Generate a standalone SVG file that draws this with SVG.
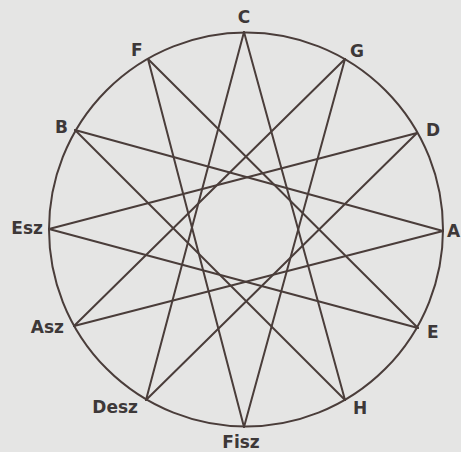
<svg xmlns="http://www.w3.org/2000/svg" width="461" height="452" viewBox="0 0 461 452">
<style>
.bg{fill:#e5e5e4}
.ln{stroke:#4a3d3a;stroke-width:2;fill:none;stroke-linecap:round}
.lb{font-family:"DejaVu Sans",sans-serif;font-weight:bold;font-size:17px;fill:#3d3838}
</style>
<rect class="bg" x="0" y="0" width="461" height="452"/>
<g id="circle"><circle class="ln" cx="246" cy="229.5" r="197"/></g>
<g id="connectors">
<line class="ln" x1="244" y1="32" x2="345" y2="400"/>
<line class="ln" x1="345" y1="400" x2="75" y2="130"/>
<line class="ln" x1="75" y1="130" x2="443" y2="231"/>
<line class="ln" x1="443" y1="231" x2="74" y2="326"/>
<line class="ln" x1="74" y1="326" x2="345" y2="59"/>
<line class="ln" x1="345" y1="59" x2="244" y2="427"/>
<line class="ln" x1="244" y1="427" x2="148" y2="59"/>
<line class="ln" x1="148" y1="59" x2="418" y2="328"/>
<line class="ln" x1="418" y1="328" x2="49" y2="229"/>
<line class="ln" x1="49" y1="229" x2="417" y2="133"/>
<line class="ln" x1="417" y1="133" x2="146" y2="400"/>
<line class="ln" x1="146" y1="400" x2="244" y2="32"/>
</g>
<g id="C"><text class="lb" x="244" y="23" text-anchor="middle">C</text></g>
<g id="G"><text class="lb" x="350" y="57">G</text></g>
<g id="D"><text class="lb" x="426" y="136">D</text></g>
<g id="A"><text class="lb" x="447" y="237">A</text></g>
<g id="E"><text class="lb" x="427" y="338">E</text></g>
<g id="H"><text class="lb" x="353" y="414">H</text></g>
<g id="Fisz"><text class="lb" x="241" y="448" text-anchor="middle">Fisz</text></g>
<g id="Desz"><text class="lb" x="138" y="413" text-anchor="end">Desz</text></g>
<g id="Asz"><text class="lb" x="64" y="333" text-anchor="end">Asz</text></g>
<g id="Esz"><text class="lb" x="43" y="234" text-anchor="end">Esz</text></g>
<g id="B"><text class="lb" x="68" y="133" text-anchor="end">B</text></g>
<g id="F"><text class="lb" x="131" y="56">F</text></g>
</svg>
